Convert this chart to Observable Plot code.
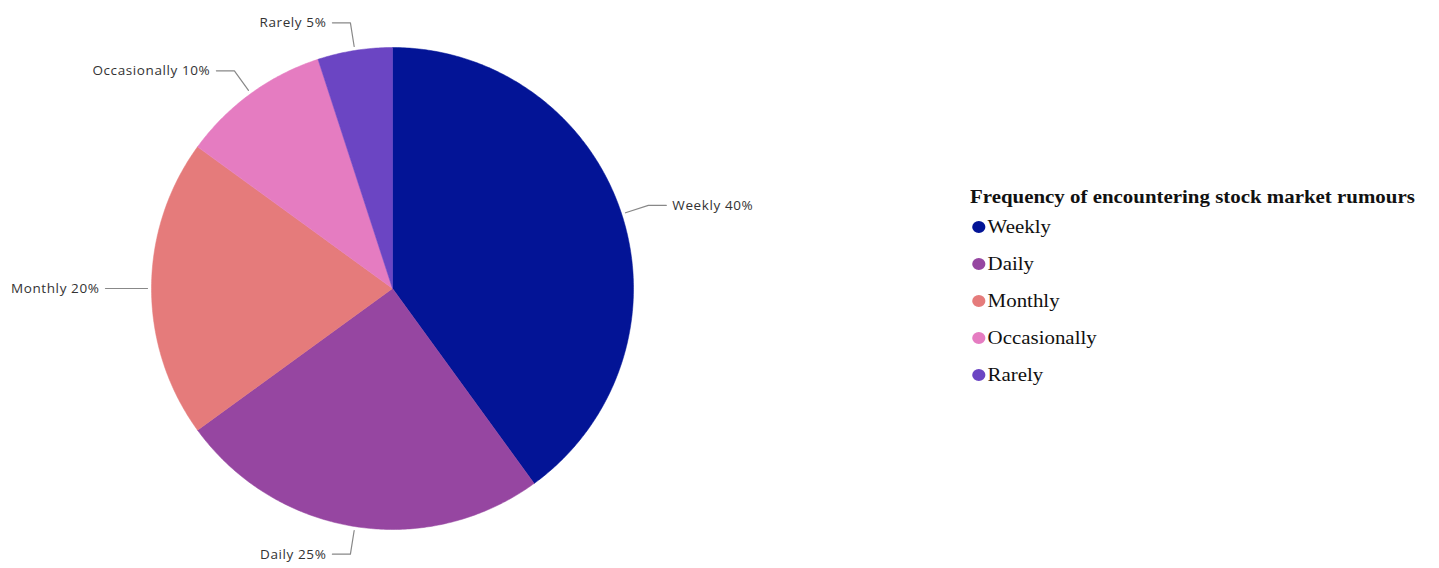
<!DOCTYPE html>
<html>
<head>
<meta charset="utf-8">
<script src="https://cdn.jsdelivr.net/npm/d3@7"></script>
<script src="https://cdn.jsdelivr.net/npm/@observablehq/plot@0.6"></script>
<style>
  html, body { margin: 0; padding: 0; background: #fff; }
  #wrap { position: relative; width: 1439px; height: 568px; }
  #legend { position: absolute; left: 970px; top: 186px; font-family: "Liberation Serif", "Times New Roman", serif; color: #111; transform: scaleX(1.1); transform-origin: left top; }
  #legend .title { font-weight: bold; font-size: 19px; margin-bottom: 8px; }
  #legend .item { font-size: 19px; height: 37px; display: flex; align-items: flex-start; }
  #legend .sw { width: 12px; height: 12px; border-radius: 50%; display: inline-block; margin: 5px 2px 0 2px; }
  svg text { letter-spacing: 0.6px; }
</style>
</head>
<body>
<div id="wrap"></div>
<script>
const categories = ["Weekly", "Daily", "Monthly", "Occasionally", "Rarely"];
const values = [40, 25, 20, 10, 5];
const colors = ["#031496", "#9646a1", "#e57b7b", "#e57cc1", "#6b45c3"];
const legendTitle = "Frequency of encountering stock market rumours";

const W = 1439, H = 568;
const cx = 392, cy = 288, R = 241;

const pie = d3.pie().sort(null).value(d => d.value)(categories.map((c, i) => ({cat: c, value: values[i]})));

// slice polygons
const slicePts = [];
pie.forEach(p => {
  const steps = Math.max(8, Math.ceil((p.endAngle - p.startAngle) / 0.01));
  slicePts.push({cat: p.data.cat, x: 0, y: 0});
  for (let k = 0; k <= steps; k++) {
    const a = p.startAngle + (p.endAngle - p.startAngle) * k / steps;
    slicePts.push({cat: p.data.cat, x: R * Math.sin(a), y: -R * Math.cos(a)});
  }
  slicePts.push({cat: p.data.cat, x: 0, y: 0});
});

// label leader lines and text
const leaderPts = [];
const labels = [];
pie.forEach(p => {
  const a = (p.startAngle + p.endAngle) / 2;
  const sx = Math.sin(a), sy = -Math.cos(a);
  const dir = sx >= 0 ? 1 : -1;
  const r0 = R + 4, r1 = R + 28;
  const ex = r1 * sx, ey = r1 * sy;
  leaderPts.push({cat: p.data.cat, x: r0 * sx, y: r0 * sy});
  leaderPts.push({cat: p.data.cat, x: ex, y: ey});
  leaderPts.push({cat: p.data.cat, x: ex + dir * 18, y: ey});
  labels.push({x: ex + dir * 24, y: ey, text: `${p.data.cat} ${p.data.value}%`, anchor: dir > 0 ? "start" : "end"});
});

const chart = Plot.plot({
  width: W, height: H,
  margin: 0,
  x: {domain: [-cx, W - cx], range: [0, W], axis: null},
  y: {domain: [-cy, H - cy], range: [0, H], axis: null},
  color: {domain: categories, range: colors},
  style: {fontFamily: "'Open Sans', 'Noto Sans', sans-serif", background: "#fff"},
  marks: [
    Plot.line(slicePts, {x: "x", y: "y", z: "cat", fill: "cat", stroke: "cat", strokeWidth: 0.5, curve: "linear"}),
    Plot.line(leaderPts, {x: "x", y: "y", z: "cat", stroke: "#888", strokeWidth: 1.2}),
    Plot.text(labels.filter(d => d.anchor === "start"), {x: "x", y: "y", text: "text", textAnchor: "start", fontSize: 13.5, fill: "#333"}),
    Plot.text(labels.filter(d => d.anchor === "end"), {x: "x", y: "y", text: "text", textAnchor: "end", fontSize: 13.5, fill: "#333"})
  ]
});

const wrap = document.getElementById("wrap");
wrap.appendChild(chart);

const legend = document.createElement("div");
legend.id = "legend";
const t = document.createElement("div");
t.className = "title";
t.textContent = legendTitle;
legend.appendChild(t);
categories.forEach((c, i) => {
  const it = document.createElement("div");
  it.className = "item";
  const sw = document.createElement("span");
  sw.className = "sw";
  sw.style.background = colors[i];
  it.appendChild(sw);
  const s = document.createElement("span");
  s.textContent = c;
  it.appendChild(s);
  legend.appendChild(it);
});
wrap.appendChild(legend);
</script>
</body>
</html>
